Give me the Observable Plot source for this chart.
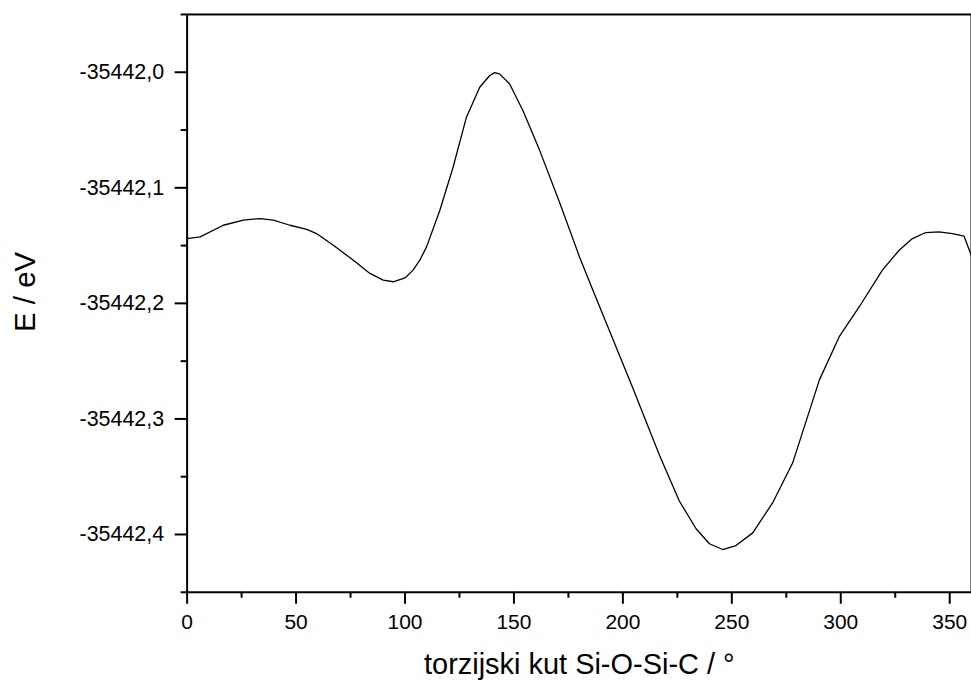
<!DOCTYPE html>
<html>
<head>
<meta charset="utf-8">
<script src="https://cdn.jsdelivr.net/npm/d3@7"></script>
<script src="https://cdn.jsdelivr.net/npm/@observablehq/plot@0.6"></script>
<style>
html, body { margin: 0; padding: 0; background: #fff; overflow: hidden; }
#chart svg { display: block; }
</style>
</head>
<body>
<div id="chart"></div>
<script>
// torsion angle (degrees)
const angles = [0, 6, 16.6, 25.8, 33.5, 39.6, 47.2, 54.9, 59.4, 67.1, 76.3, 83.9, 90, 94.6, 100, 103.7, 106.8, 109.9, 116, 122.1, 128.2, 134.3, 138.9, 141.2, 143.4, 148, 154.1, 161.8, 171, 180.1, 186.2, 204.6, 207.6, 216.8, 225.9, 233.6, 239.7, 245.8, 251.9, 259.6, 268.7, 277.9, 290.2, 299.3, 308.5, 319.1, 326.8, 332.9, 339, 345.1, 351.2, 356.6, 360];
// energy (eV)
const energies = [-35442.1439, -35442.1425, -35442.1324, -35442.1280, -35442.1266, -35442.1280, -35442.1324, -35442.1360, -35442.1396, -35442.1497, -35442.1626, -35442.1741, -35442.1799, -35442.1813, -35442.1780, -35442.1712, -35442.1626, -35442.1511, -35442.1194, -35442.0820, -35442.0389, -35442.0130, -35442.0028, -35442.0003, -35442.0014, -35442.0100, -35442.0331, -35442.0676, -35442.1130, -35442.1598, -35442.1885, -35442.2734, -35442.2878, -35442.3315, -35442.3710, -35442.3950, -35442.4080, -35442.4130, -35442.4096, -35442.3986, -35442.3727, -35442.3382, -35442.2662, -35442.2288, -35442.2029, -35442.1712, -35442.1540, -35442.1439, -35442.1387, -35442.1382, -35442.1396, -35442.1419, -35442.1590];

const xMajorTicks = [0, 50, 100, 150, 200, 250, 300, 350];
const xMinorTicks = [25, 75, 125, 175, 225, 275, 325];
const yMajorTicks = [-35442.4, -35442.3, -35442.2, -35442.1, -35442.0];
const yMinorTicks = [-35442.45, -35442.35, -35442.25, -35442.15, -35442.05, -35441.95];
const xDomain = [0, 360];
const yDomain = [-35442.45, -35441.95];
const xLabel = "torzijski kut Si-O-Si-C / °";
const yLabel = "E / eV";

const data = angles.map((a, i) => ({angle: a, energy: energies[i]}));
const fmt = d => d.toFixed(1).replace(".", ",");

const chart = Plot.plot({
  width: 973,
  height: 681,
  marginLeft: 187,
  marginRight: 0,
  marginTop: 14,
  marginBottom: 88,
  style: {fontFamily: "'Liberation Sans', Arial, sans-serif", color: "#000", background: "#fff", overflow: "visible"},
  x: {domain: xDomain},
  y: {domain: yDomain},
  marks: [
    Plot.axisX(xMajorTicks, {tickSize: 12, tickPadding: 10, strokeWidth: 2, fontSize: 21, tickFormat: d => String(d), label: null}),
    Plot.axisX(xMinorTicks, {tickSize: 6, strokeWidth: 2, tickFormat: () => "", label: null}),
    Plot.axisY(yMajorTicks, {tickSize: 12, tickPadding: 11, strokeWidth: 2, fontSize: 21.5, tickFormat: fmt, label: null}),
    Plot.axisY(yMinorTicks, {tickSize: 6, strokeWidth: 2, tickFormat: () => "", label: null}),
    Plot.frame({stroke: "#000", strokeWidth: 2}),
    Plot.line(data, {x: "angle", y: "energy", stroke: "#000", strokeWidth: 1.3}),
    Plot.text([xLabel], {frameAnchor: "bottom", textAnchor: "middle", dy: 82, fontSize: 29, fill: "#000"}),
    Plot.text([yLabel], {frameAnchor: "left", textAnchor: "middle", dx: -162, dy: -11.5, rotate: -90, fontSize: 29.5, fill: "#000"})
  ]
});
document.getElementById("chart").appendChild(chart);
</script>
</body>
</html>
